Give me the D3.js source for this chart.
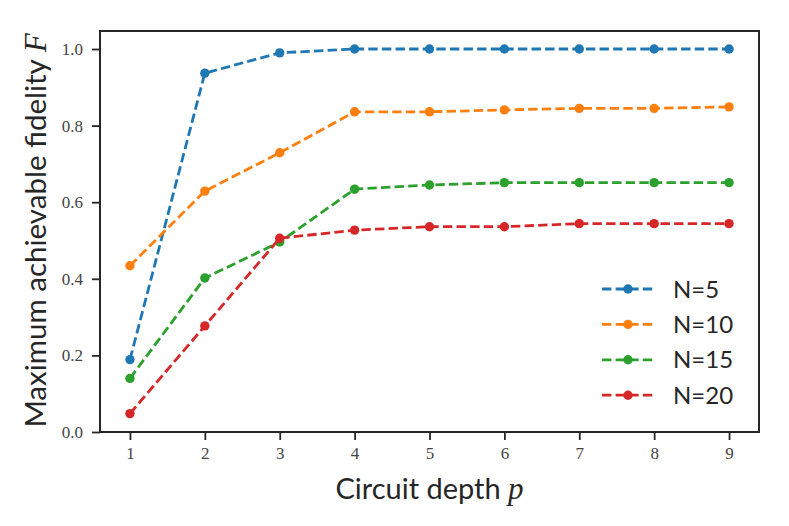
<!DOCTYPE html>
<html>
<head>
<meta charset="utf-8">
<script src="https://cdn.jsdelivr.net/npm/d3@7"></script>
<style>
  body { margin: 0; background: #fff; }
  svg { display: block; }
</style>
</head>
<body>
<svg id="chart" width="789" height="526"></svg>
<script>
const width = 789;
const height = 526;

// données
const depths = [1, 2, 3, 4, 5, 6, 7, 8, 9];
const seriesNames = ["N=5", "N=10", "N=15", "N=20"];
const fidN5  = [0.189, 0.937, 0.990, 1.000, 1.000, 1.000, 1.000, 1.000, 1.000];
const fidN10 = [0.434, 0.629, 0.729, 0.836, 0.836, 0.841, 0.845, 0.845, 0.849];
const fidN15 = [0.140, 0.402, 0.496, 0.634, 0.645, 0.651, 0.651, 0.651, 0.651];
const fidN20 = [0.048, 0.277, 0.506, 0.527, 0.536, 0.536, 0.544, 0.544, 0.544];
const yTicks = [0.0, 0.2, 0.4, 0.6, 0.8, 1.0];
const colors = ["#1f77b4", "#ff7f0e", "#2ca02c", "#d62728"];

const series = [fidN5, fidN10, fidN15, fidN20].map((vals, i) => ({
  name: seriesNames[i],
  color: colors[i],
  values: vals.map((v, j) => ({ p: depths[j], f: v }))
}));

const margin = { top: 31, right: 30, bottom: 94, left: 100 };
const w = width - margin.left - margin.right;
const h = height - margin.top - margin.bottom;

const svg = d3.select("#chart");
const g = svg.append("g").attr("transform", `translate(${margin.left},${margin.top})`);

const x = d3.scaleLinear().domain([0.6, 9.4]).range([0, w]);
const y = d3.scaleLinear().domain([0, 1.047]).range([h, 0]);

const ink = "#262626";
const sans = "Lato, 'Open Sans', sans-serif";
const serif = "'Liberation Serif', 'DejaVu Serif', serif";

// axes
const xAxis = g.append("g")
  .attr("transform", `translate(0,${h})`)
  .call(d3.axisBottom(x).tickValues(depths).tickFormat(d3.format("d")).tickSize(8).tickPadding(7));

const yAxis = g.append("g")
  .call(d3.axisLeft(y).tickValues(yTicks).tickFormat(d3.format(".1f")).tickSize(8).tickPadding(9));

[xAxis, yAxis].forEach(ax => {
  ax.select(".domain").remove();
  ax.selectAll(".tick line").attr("stroke", ink).attr("stroke-width", 1.8);
  ax.selectAll(".tick text")
    .attr("fill", "#444")
    .style("font-family", serif)
    .style("font-size", "17px");
});

// cadre
g.append("rect")
  .attr("width", w)
  .attr("height", h)
  .attr("fill", "none")
  .attr("stroke", ink)
  .attr("stroke-width", 2);

// lignes
const line = d3.line().x(d => x(d.p)).y(d => y(d.f));

const sg = g.selectAll(".series")
  .data(series)
  .enter().append("g")
  .attr("class", "series");

sg.append("path")
  .attr("d", d => line(d.values))
  .attr("fill", "none")
  .attr("stroke", d => d.color)
  .attr("stroke-width", 2.8)
  .attr("stroke-dasharray", "9.4,4.2");

sg.selectAll("circle")
  .data(d => d.values.map(v => ({ ...v, color: d.color })))
  .enter().append("circle")
  .attr("cx", d => x(d.p))
  .attr("cy", d => y(d.f))
  .attr("r", 4.7)
  .attr("fill", d => d.color);

// légende
const legend = svg.append("g").attr("transform", "translate(602,289)");
const legendItems = legend.selectAll("g")
  .data(series)
  .enter().append("g")
  .attr("transform", (d, i) => `translate(0, ${i * 35.4})`);

legendItems.append("line")
  .attr("x1", 0).attr("x2", 52)
  .attr("stroke", d => d.color)
  .attr("stroke-width", 2.8)
  .attr("stroke-dasharray", "9.4,4.2");

legendItems.append("circle")
  .attr("cx", 26)
  .attr("r", 4.7)
  .attr("fill", d => d.color);

legendItems.append("text")
  .attr("x", 71)
  .attr("y", 8.5)
  .text(d => d.name)
  .attr("fill", ink)
  .style("font-family", sans)
  .style("font-size", "24px");

// titres des axes
svg.append("text")
  .attr("x", margin.left + w / 2)
  .attr("y", 499)
  .attr("text-anchor", "middle")
  .attr("fill", ink)
  .style("font-family", sans)
  .style("font-size", "29px")
  .html(`Circuit depth <tspan font-family="${serif}" font-style="italic" font-size="31px">p</tspan>`);

svg.append("text")
  .attr("transform", `translate(46, ${margin.top + h / 2 - 1}) rotate(-90)`)
  .attr("text-anchor", "middle")
  .attr("fill", ink)
  .style("font-family", sans)
  .style("font-size", "29.5px")
  .html(`Maximum achievable fidelity <tspan font-family="${serif}" font-style="italic" font-size="31px">F</tspan>`);
</script>
</body>
</html>
